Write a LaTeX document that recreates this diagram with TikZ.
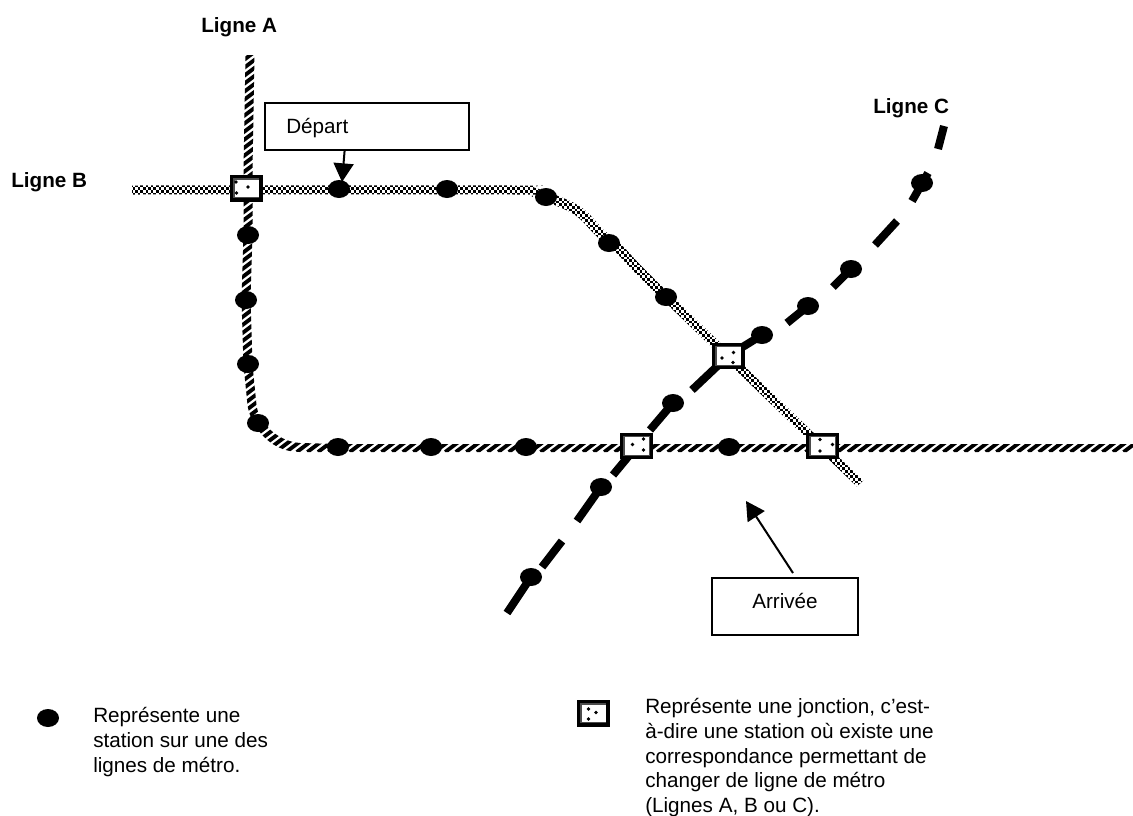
\documentclass[tikz,border=0pt]{standalone}
\usepackage{fontspec}
\setmainfont{Liberation Sans}
\usetikzlibrary{shapes.geometric,arrows.meta}
\tikzset{
  x=0.75pt,y=-0.75pt,
  lbl/.style={anchor=base west,inner sep=0pt,font=\fontsize{15.5}{18.4}\selectfont},
  lblbold/.style={lbl,font=\fontsize{15.5}{18.4}\selectfont\bfseries},
  legend/.style={anchor=north west,inner sep=0pt,align=left,font=\fontsize{15.5}{18.6}\selectfont},
  station/.style={ellipse,fill=black,inner sep=0pt,minimum width=16.5pt,minimum height=13.5pt},
  junc/.style={rectangle,fill=black,inner sep=0pt,minimum width=24.75pt,minimum height=20pt,
    path picture={
      \fill[black!70] ([shift={(2.6pt,2.6pt)}]path picture bounding box.south west) rectangle ([shift={(-2.6pt,-2.4pt)}]path picture bounding box.north east);
      \fill[white] ([shift={(4pt,3.4pt)}]path picture bounding box.south west) rectangle ([shift={(-3pt,-3.4pt)}]path picture bounding box.north east);
    }},
  jdot/.style={fill=black},
  infobox/.style={draw=black,line width=1.5pt,fill=white,inner sep=0pt},
  pointer/.style={draw=black,line width=1.5pt,-{Triangle[length=14pt,width=15pt]}},
  lineC/.style={draw=black,line width=6pt,line cap=butt},
}
\newcommand{\jdots}[7]{%
  \fill[jdot] ([shift={(#2,#3)}]#1.center) circle[radius=1.4pt];
  \fill[jdot] ([shift={(#4,#5)}]#1.center) circle[radius=1.4pt];
  \fill[jdot] ([shift={(#6,#7)}]#1.center) circle[radius=1.4pt];}
\begin{document}
\begin{tikzpicture}
\useasboundingbox (0,0) rectangle (1133,815);
\fill[white] (0,0) rectangle (1133,815);

% Ligne A : striped band
\begin{scope}
\clip (245.5,55) -- (243.5,170) -- (243.5,235) -- (241.5,300) -- (243.5,365) -- (247.5,405)
  .. controls (249.5,421) and (266,452) .. (300,452) -- (1133,452) -- (1133,444) -- (338,444) -- (300,443)
  .. controls (275,441) and (258,420) .. (256.5,405) -- (252.5,365) -- (250.5,300) -- (252.5,235) -- (252.5,170) -- (254.5,55) -- cycle;
\foreach \k in {-30,...,108}
  \draw[black,line width=2.9pt] ({\k*10.6},452) -- ++(530,-400);
\end{scope}

% Ligne B : checkered band
\begin{scope}
\clip plot[smooth,tension=.5] coordinates {(132,185.5) (515,185.5) (534,187.5) (569,200.5) (586.5,211.5) (603.5,229.8) (623.5,246.8) (660.3,284.8) (863.2,480.6)}
  -- plot[smooth,tension=.5] coordinates {(856.8,486.4) (653.7,291.2) (616.5,253.2) (596.5,236.2) (579.5,218.5) (565,209.5) (532,196.5) (515,194.5) (132,194.5)} -- cycle;
\foreach \r in {0,...,114} {
  \pgfmathsetmacro{\yy}{186+\r*2.667}
  \pgfmathsetmacro{\xx}{130+mod(\r,2)*2.6}
  \draw[black,line width=2pt,dash pattern=on 2pt off 1.9pt] (\xx,\yy) -- (870,\yy);
}
\end{scope}

% Ligne C : long dashes
\coordinate (c0a) at (507,613); \coordinate (c0b) at (531,577);
\coordinate (c1a) at (542,567); \coordinate (c1b) at (562,541);
\coordinate (c2a) at (577,521); \coordinate (c2b) at (601,487);
\coordinate (c3a) at (613,475); \coordinate (c3b) at (637,446);
\coordinate (c4a) at (650,430); \coordinate (c4b) at (673,403);
\coordinate (c5a) at (692,390); \coordinate (c5b) at (728,356);
\coordinate (c6a) at (728,356); \coordinate (c6b) at (762,335);
\coordinate (c7a) at (787,323); \coordinate (c7b) at (808,306);
\coordinate (c8a) at (833,287); \coordinate (c8b) at (851,269);
\coordinate (c9a) at (875,245); \coordinate (c9b) at (897,221);
\coordinate (c10a) at (912,201); \coordinate (c10b) at (928,173);
\coordinate (c11a) at (938,149); \coordinate (c11b) at (944,126);
\foreach \s in {0,...,11} \draw[lineC] (c\s a) -- (c\s b);

% Stations
\foreach \n/\p in {a1/{248,235},a2/{246,300},a3/{248,364},a4/{258,423},
  s1/{338,447},s2/{431,447},s3/{526,447},s4/{729,447},
  b1/{339,189},b2/{447,189},b3/{546,197},b4/{609,243},b5/{666,297},
  c1/{531,577},c2/{601,487},c3/{673,403},c4/{762,335},c5/{808,306},c6/{851,269},c7/{922,183}}
  \node[station] (\n) at (\p) {};

% Jonctions
\node[junc] (j1) at (246,188.5) {};
\node[junc] (j2) at (728,356) {};
\node[junc] (j3) at (636.5,446) {};
\node[junc] (j4) at (822.5,446) {};
\jdots{j1}{-10}{-6.5}{2}{-1.5}{-9.5}{4.5}
\jdots{j2}{-6}{2}{5.5}{-3.5}{5}{6.5}
\jdots{j3}{-4}{-1.5}{7}{-7}{7}{4}
\jdots{j4}{-2.5}{-6.5}{10}{-1.5}{-2.5}{5}

% Boxes and pointers
\coordinate (tipD) at (342,182);
\coordinate (tipA) at (746,501);
\coordinate (startD) at (345,146);
\coordinate (startA) at (793,573);
\draw[pointer] (startD) -- (tipD);
\draw[pointer] (startA) -- (tipA);
\node[infobox,minimum width=153pt,minimum height=35pt] (depart) at (366.5,126.5) {};
\node[infobox,minimum width=109.5pt,minimum height=42.5pt] (arrivee) at (785,606.5) {};
\node[lbl] (tdep) at (286,133) {Départ};
\node[lbl] (tarr) at (752,608) {Arrivée};

% Line names
\node[lblbold] (la) at (201,32) {Ligne A};
\node[lblbold] (lb) at (11,187) {Ligne B};
\node[lblbold] (lc) at (873,113) {Ligne C};

% Legend
\node[station] (lgs) at (48,718) {};
\node[legend] (lgst) at (93,707) {Représente une\\station sur une des\\lignes de métro.};
\node[junc] (lgj) at (593,713.5) {};
\jdots{lgj}{-4.5}{-4.5}{3}{-1}{-4.5}{5.5}
\node[legend] (lgjt) at (645,698) {Représente une jonction, c’est-\\à-dire une station où existe une\\correspondance permettant de\\changer de ligne de métro\\(Lignes A, B ou C).};
\end{tikzpicture}
\end{document}
